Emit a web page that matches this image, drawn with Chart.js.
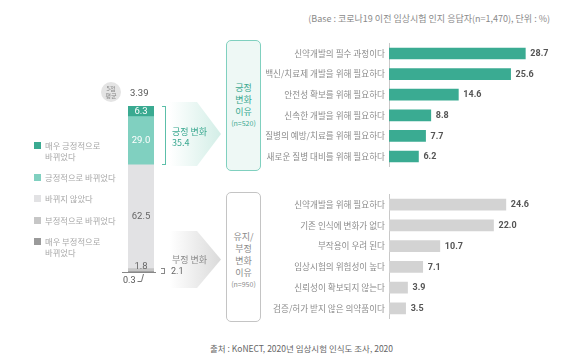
<!DOCTYPE html>
<html><head><meta charset="utf-8">
<script src="https://cdn.jsdelivr.net/npm/chart.js@4"></script>
<style>
html,body{margin:0;padding:0;background:#fff;}
#wrap{position:relative;width:588px;height:364px;overflow:hidden;font-family:"Noto Sans CJK KR","Noto Sans",sans-serif;}
.abs{position:absolute;}
canvas{position:absolute;}
.txt{position:absolute;white-space:pre;line-height:11px;}
</style></head>
<body><div id="wrap">
<div id="arrowTop" class="abs" style="left:170px;top:102px;width:51px;height:64px;clip-path:polygon(0 0,53% 0,100% 50%,53% 100%,0 100%);background:linear-gradient(to right,rgba(255,255,255,1) 0%,#d3eee7 100%);"></div>
<div id="arrowBot" class="abs" style="left:170px;top:231px;width:51px;height:57px;clip-path:polygon(0 0,53% 0,100% 50%,53% 100%,0 100%);background:linear-gradient(to right,rgba(255,255,255,1) 0%,#dadada 100%);"></div>
<canvas id="stack" width="26" height="166" style="left:128px;top:106px;"></canvas>
<canvas id="pos" width="338" height="142" style="left:250px;top:34px;"></canvas>
<canvas id="neg" width="338" height="143" style="left:250px;top:185px;"></canvas>
</div>
<script>
// ---- data ----
const changeLabels = ['매우 긍정적으로\n바뀌었다', '긍정적으로 바뀌었다', '바뀌지 않았다', '부정적으로 바뀌었다', '매우 부정적으로\n바뀌었다'];
const changeValues = [6.3, 29.0, 62.5, 1.8, 0.3];
const avgScore = 3.39;
const positiveTotal = 35.4;
const negativeTotal = 2.1;
const posReasons = ['신약개발의 필수 과정이다', '백신/치료제 개발을 위해 필요하다', '안전성 확보를 위해 필요하다', '신속한 개발을 위해 필요하다', '질병의 예방/치료를 위해 필요하다', '새로운 질병 대비를 위해 필요하다'];
const posValues = [28.7, 25.6, 14.6, 8.8, 7.7, 6.2];
const negReasons = ['신약개발을 위해 필요하다', '기존 인식에 변화가 없다', '부작용이 우려 된다', '임상시험의 위험성이 높다', '신뢰성이 확보되지 않는다', '검증/허가 받지 않은 의약품이다'];
const negValues = [24.6, 22.0, 10.7, 7.1, 3.9, 3.5];
const posN = 520;
const negN = 950;
const baseNote = '(Base : 코로나19 이전 임상시험 인지 응답자(n=1,470), 단위 : %)';
const sourceNote = '출처 : KoNECT, 2020년 임상시험 인식도 조사, 2020';

// ---- styles ----
const changeColors = ['#3aaa91', '#80d0c0', '#e2e2e4', '#c6c6c6', '#9a9a9a'];
const KFONT = '"Noto Sans CJK KR","Noto Sans",sans-serif';
const NFONT = 'Roboto,"Noto Sans",sans-serif';
const wrap = document.getElementById('wrap');
function addText(t, css){ const d=document.createElement('div'); d.className='txt'; d.textContent=t; d.style.cssText += css; wrap.appendChild(d); return d; }
function addBox(css){ const d=document.createElement('div'); d.className='abs'; d.style.cssText = css; wrap.appendChild(d); return d; }

// notes
addText(baseNote, 'right:38px;top:13px;font-size:9px;color:#8a8a8a;');
addText(sourceNote, 'left:210px;top:343px;font-size:8.5px;color:#666;');

// legend
const legendY = [141, 173, 194, 216, 237];
changeLabels.forEach((l,i)=>{
  addBox(`left:34px;top:${legendY[i]+1}px;width:6.5px;height:6.5px;background:${changeColors[i]};`);
  addText(l, `left:45px;top:${legendY[i]-1}px;font-size:8.3px;color:#a8a8a8;`);
});

// average circle
addBox('left:101px;top:82px;width:20px;height:20px;border-radius:50%;background:#e4e4e4;');
addText('5점', 'left:101px;top:85px;width:20px;text-align:center;font-size:6px;line-height:7px;color:#888;');
addText('평균', 'left:101px;top:92px;width:20px;text-align:center;font-size:6px;line-height:7px;color:#888;');
addText(avgScore.toFixed(2), `left:130px;top:87px;font-size:9.5px;color:#555;font-family:${NFONT};`);

// positive bracket & text
addBox('left:162px;top:106px;width:3px;height:57px;border:1px solid #5cbfa9;border-left:none;');
addText('긍정 변화\n' + positiveTotal.toFixed(1), `left:172px;top:126px;font-size:9px;color:#3aa890;line-height:11px;`);
// negative
addBox('left:161px;top:268px;width:3px;height:4px;border:1px solid #888;border-left:none;');
addText('부정 변화', `left:172px;top:254px;font-size:9px;color:#8a8a8a;`);
addText(negativeTotal.toFixed(1), `left:171px;top:266px;font-size:9px;color:#666;font-family:${NFONT};`);
// baseline & 0.3 leader
addBox('left:122px;top:272px;width:34px;height:1px;background:#888;');
addText(changeValues[4].toFixed(1), `left:123px;top:275px;font-size:9px;color:#555;font-family:${NFONT};`);
const svg = document.createElementNS('http://www.w3.org/2000/svg','svg');
svg.setAttribute('width','588'); svg.setAttribute('height','364');
svg.style.cssText='position:absolute;left:0;top:0;pointer-events:none;';
svg.innerHTML='<polyline points="137.5,281.5 141.5,281.5 143.5,274" fill="none" stroke="#666" stroke-width="0.9"/>';
wrap.appendChild(svg);

// reason boxes
const b1 = addBox('left:226px;top:40px;width:35px;height:131px;box-sizing:border-box;border:1.5px solid #80d0bf;border-radius:5px;background:#eef8f5;display:flex;flex-direction:column;align-items:center;justify-content:center;color:#3aa890;');
b1.innerHTML = '<div style="font-size:9px;line-height:12.2px;text-align:center;">긍정<br>변화<br>이유</div><div style="font-size:7px;line-height:11px;">(n=' + posN + ')</div>';
const b2 = addBox('left:226px;top:192px;width:35px;height:130px;box-sizing:border-box;border:1.5px solid #c4c4c4;border-radius:5px;background:#fff;display:flex;flex-direction:column;align-items:center;justify-content:center;padding-top:6px;color:#8a8a8a;');
b2.innerHTML = '<div style="font-size:9px;line-height:12px;text-align:center;">유지/<br>부정<br>변화<br>이유</div><div style="font-size:7px;line-height:11px;">(n=' + negN + ')</div>';

// ---- stacked chart ----
const stackOrder = [4,3,2,1,0];
const stackLabelPlugin = {
  id:'stackLabels',
  afterDatasetsDraw(chart){
    const ctx = chart.ctx;
    ctx.save();
    ctx.textAlign='center'; ctx.textBaseline='middle';
    ctx.font = `9.5px ${NFONT}`;
    chart.data.datasets.forEach((ds,di)=>{
      const idx = ds.srcIndex;
      const el = chart.getDatasetMeta(di).data[0];
      const v = ds.data[0];
      if (idx===4) return;
      let y = (el.y + el.base)/2, col = '#fff';
      if (idx===2) col = '#666';
      if (idx===3) { y = el.y - 2; col = '#666'; }
      ctx.fillStyle = col;
      ctx.fillText(v.toFixed(1), el.x, y);
    });
    ctx.restore();
  }
};
new Chart(document.getElementById('stack'), {
  type:'bar',
  data:{ labels:['x'], datasets: stackOrder.map(i=>({ label:changeLabels[i], data:[changeValues[i]], backgroundColor:changeColors[i], srcIndex:i, barPercentage:1, categoryPercentage:1, borderWidth:0 })) },
  options:{ responsive:false, animation:false, events:[],
    plugins:{legend:{display:false}, tooltip:{enabled:false}},
    layout:{padding:0},
    scales:{ x:{stacked:true, display:false}, y:{stacked:true, display:false, min:0, max:100} } },
  plugins:[stackLabelPlugin]
});

// ---- horizontal charts ----
const valueLabelPlugin = {
  id:'valueLabels',
  afterDatasetsDraw(chart){
    const ctx = chart.ctx;
    ctx.save();
    ctx.font = `bold 9px ${NFONT}`;
    ctx.fillStyle = '#555'; ctx.textAlign='left'; ctx.textBaseline='middle';
    const meta = chart.getDatasetMeta(0);
    meta.data.forEach((el,i)=>{ ctx.fillText(chart.data.datasets[0].data[i].toFixed(1), el.x + 5, el.y + 0.5); });
    ctx.restore();
  }
};
function hbar(id, labels, values, color){
  new Chart(document.getElementById(id), {
    type:'bar',
    data:{ labels, datasets:[{ data:values, backgroundColor:color, barThickness:11, borderWidth:0 }] },
    options:{ indexAxis:'y', responsive:false, animation:false, events:[],
      plugins:{legend:{display:false}, tooltip:{enabled:false}},
      layout:{padding:{left:0,right:9,top:0,bottom:0}},
      scales:{
        x:{display:false, min:0, max:40},
        y:{ grid:{display:false, drawTicks:false}, border:{display:true, color:'#c9c9c9', width:1},
            ticks:{ color:'#8c8c8c', padding:4, font:{family:KFONT, size:8.6} },
            afterFit(s){ s.width = 139; } }
      } },
    plugins:[valueLabelPlugin]
  });
}
hbar('pos', posReasons, posValues, '#3aab92');
hbar('neg', negReasons, negValues, '#d3d3d3');
</script>
</body></html>
